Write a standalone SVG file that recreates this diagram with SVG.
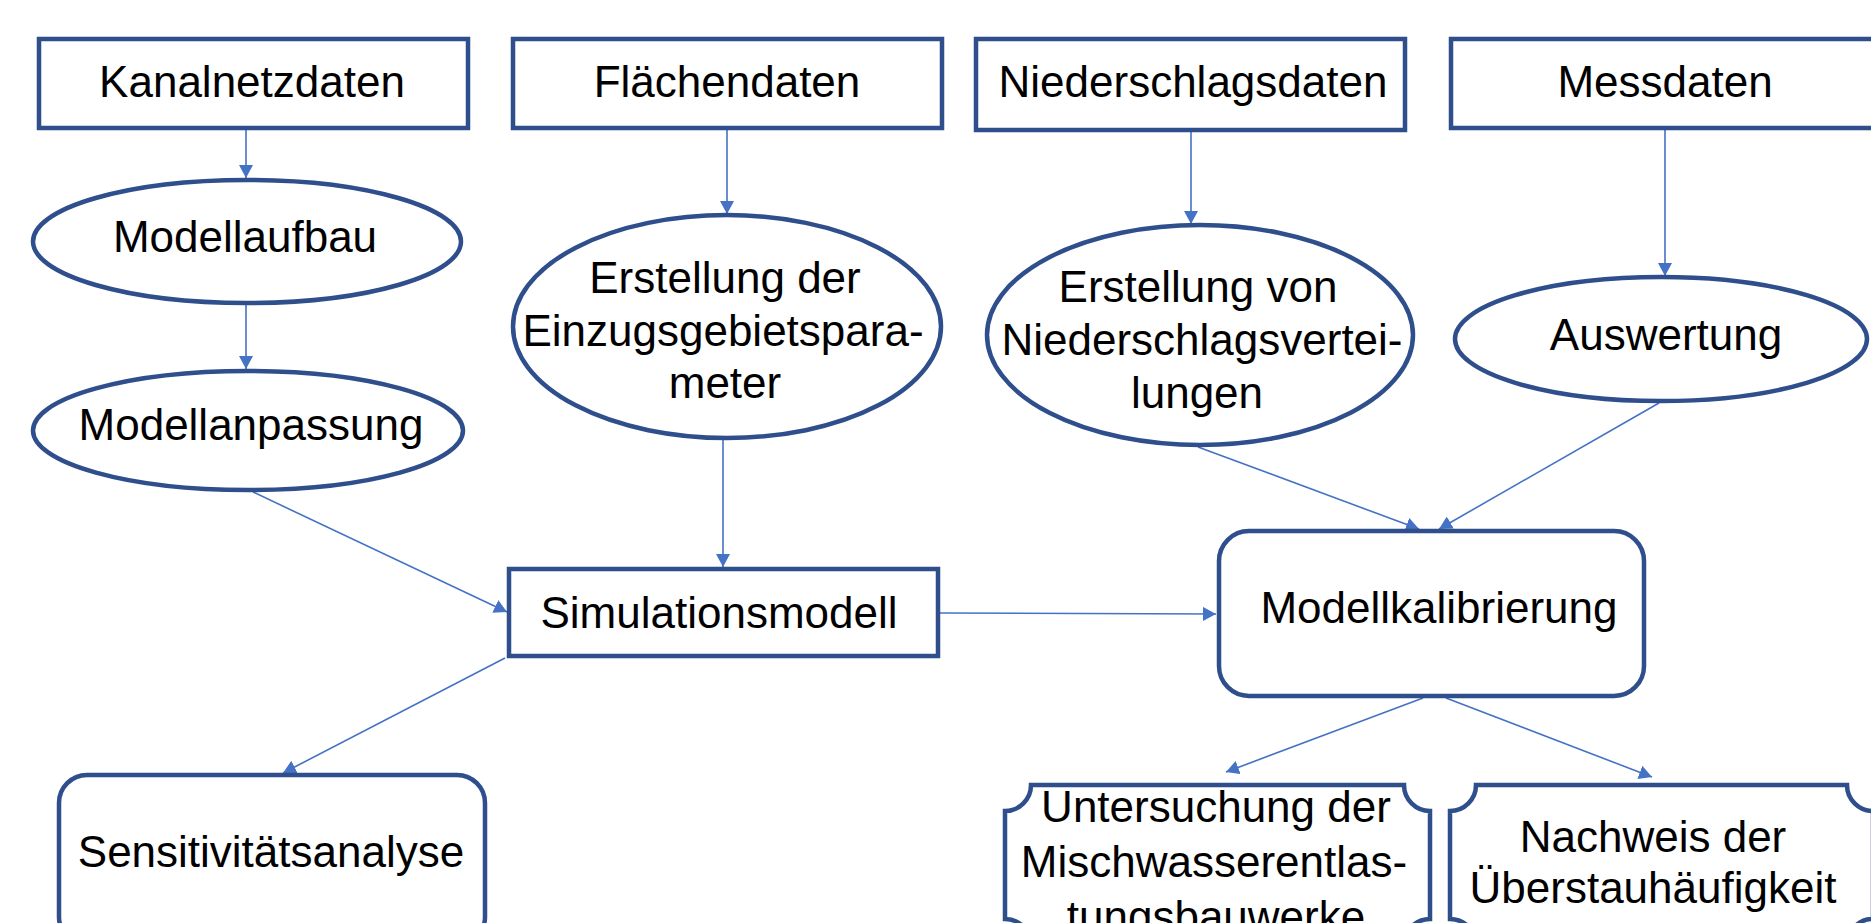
<svg xmlns="http://www.w3.org/2000/svg" width="1871" height="923" viewBox="0 0 1871 923">
<style>
.n{fill:#fff;stroke:#2F4E8C;stroke-width:4.5}
.t{font-family:"Liberation Sans",Arial,sans-serif;font-size:44px;fill:#000;text-anchor:middle}
.c{stroke:#4472C4;stroke-width:1.6;fill:none;marker-end:url(#ah)}
</style>
<defs>
<marker id="ah" markerUnits="userSpaceOnUse" markerWidth="14" markerHeight="14" refX="13" refY="7" orient="auto">
<path d="M0,0 L13,7 L0,14 Z" fill="#4472C4"/>
</marker>
</defs>
<rect width="1871" height="923" fill="#fff"/>
<g id="connectors">
<line class="c" x1="246" y1="130" x2="246" y2="178"/>
<line class="c" x1="246" y1="305" x2="246" y2="369"/>
<line class="c" x1="727" y1="130" x2="727" y2="214"/>
<line class="c" x1="1191" y1="132" x2="1191" y2="224"/>
<line class="c" x1="1665" y1="130" x2="1665" y2="276"/>
<line class="c" x1="723" y1="440" x2="723" y2="567"/>
<line class="c" x1="253" y1="492" x2="507" y2="612"/>
<line class="c" x1="505" y1="658" x2="283" y2="773"/>
<line class="c" x1="940" y1="613" x2="1216" y2="614"/>
<line class="c" x1="1198" y1="447" x2="1419" y2="529"/>
<line class="c" x1="1659" y1="403" x2="1439" y2="529"/>
<line class="c" x1="1423" y1="698" x2="1226" y2="772"/>
<line class="c" x1="1446" y1="698" x2="1652" y2="777"/>
</g>
<g id="kanalnetzdaten">
<rect class="n" x="39" y="39" width="429" height="89"/>
<text class="t" x="252" y="97">Kanalnetzdaten</text>
</g>
<g id="flaechendaten">
<rect class="n" x="513" y="39" width="429" height="89"/>
<text class="t" x="727" y="97">Flächendaten</text>
</g>
<g id="niederschlagsdaten">
<rect class="n" x="976" y="39" width="429" height="91"/>
<text class="t" x="1193" y="97">Niederschlagsdaten</text>
</g>
<g id="messdaten">
<rect class="n" x="1451" y="39" width="432" height="89"/>
<text class="t" x="1665" y="97">Messdaten</text>
</g>
<g id="modellaufbau">
<ellipse class="n" cx="247" cy="241.5" rx="214" ry="61.5"/>
<text class="t" x="245" y="252">Modellaufbau</text>
</g>
<g id="modellanpassung">
<ellipse class="n" cx="248" cy="430.5" rx="215" ry="59.5"/>
<text class="t" x="251" y="440">Modellanpassung</text>
</g>
<g id="einzugsgebiet">
<ellipse class="n" cx="727" cy="326.5" rx="214" ry="111.5"/>
<text class="t" x="725" y="293">Erstellung der</text>
<text class="t" x="723" y="346">Einzugsgebietspara-</text>
<text class="t" x="725" y="398">meter</text>
</g>
<g id="niederschlagsverteilungen">
<ellipse class="n" cx="1200" cy="335" rx="213" ry="110"/>
<text class="t" x="1198" y="302">Erstellung von</text>
<text class="t" x="1202" y="355">Niederschlagsvertei-</text>
<text class="t" x="1197" y="408">lungen</text>
</g>
<g id="auswertung">
<ellipse class="n" cx="1661" cy="339" rx="206" ry="62"/>
<text class="t" x="1666" y="350">Auswertung</text>
</g>
<g id="simulationsmodell">
<rect class="n" x="509" y="569" width="429" height="87"/>
<text class="t" x="719" y="628">Simulationsmodell</text>
</g>
<g id="modellkalibrierung">
<rect class="n" x="1219" y="531" width="425" height="165" rx="30" ry="30"/>
<text class="t" x="1439" y="623">Modellkalibrierung</text>
</g>
<g id="sensitivitaetsanalyse">
<rect class="n" x="59" y="775" width="426" height="170" rx="28" ry="28"/>
<text class="t" x="271" y="867">Sensitivitätsanalyse</text>
</g>
<g id="untersuchung">
<path class="n" d="M1031,785 H1404 A26,26 0 0 0 1430,811 V919 A26,26 0 0 0 1404,945 H1031 A26,26 0 0 0 1005,919 V811 A26,26 0 0 0 1031,785 Z"/>
<text class="t" x="1216" y="822">Untersuchung der</text>
<text class="t" x="1214" y="877">Mischwasserentlas-</text>
<text class="t" x="1216" y="932">tungsbauwerke</text>
</g>
<g id="nachweis">
<path class="n" d="M1476,785 H1847 A26,26 0 0 0 1873,811 V919 A26,26 0 0 0 1847,945 H1476 A26,26 0 0 0 1450,919 V811 A26,26 0 0 0 1476,785 Z"/>
<text class="t" x="1653" y="852">Nachweis der</text>
<text class="t" x="1653" y="903">Überstauhäufigkeit</text>
</g>
</svg>
